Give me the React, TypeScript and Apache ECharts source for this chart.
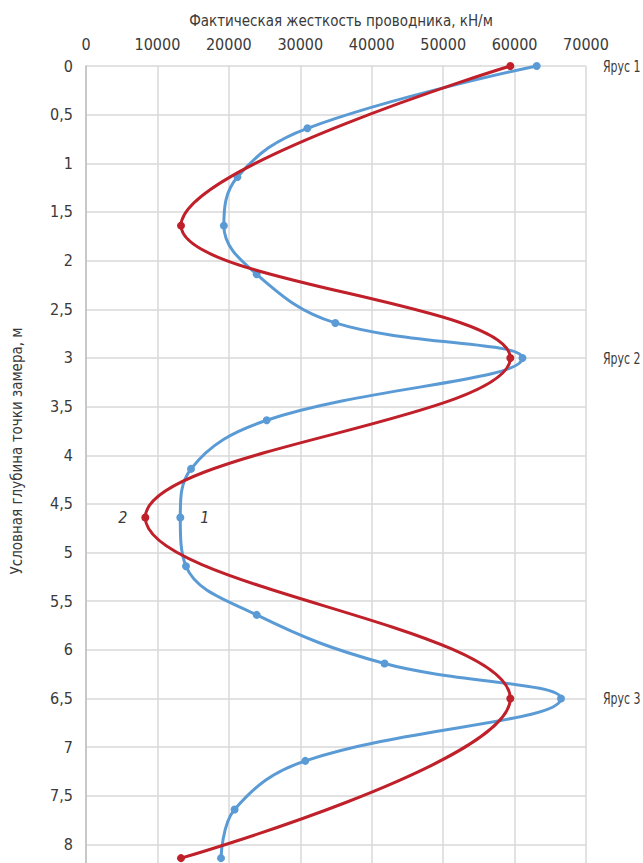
import React, { useEffect, useRef } from 'react';
import * as echarts from 'echarts';

// Series 1 (blue): depth (m) and stiffness (kN/m)
const depthsBlue = [0, 0.64, 1.14, 1.64, 2.14, 2.64, 3.0, 3.64, 4.14, 4.64, 5.14, 5.64, 6.14, 6.5, 7.14, 7.64, 8.14];
const stiffnessBlue = [63100, 31000, 21200, 19300, 23900, 34900, 61100, 25300, 14700, 13200, 14000, 23900, 41800, 66500, 30700, 20800, 18900];
// Series 2 (red)
const depthsRed = [0, 1.64, 3.0, 4.64, 6.5, 8.14];
const stiffnessRed = [59400, 13300, 59400, 8300, 59400, 13300];
// Tier labels on the right
const tierDepths = [0, 3, 6.5];
const tierNames = ['Ярус 1', 'Ярус 2', 'Ярус 3'];
// Curve labels
const blueCurveLabel = '1';
const redCurveLabel = '2';
const labelDepth = 4.64;

const FONT = '"Liberation Sans Narrow", "DejaVu Sans Condensed", "DejaVu Sans", sans-serif';
const TEXT = '#3a3a3a';
const X_MAX = 70000;

export default function App() {
  const ref = useRef<HTMLDivElement>(null);
  useEffect(() => {
    if (!ref.current) return;
    const chart = echarts.init(ref.current, undefined, { renderer: 'svg' });
    const blueData = depthsBlue.map((d, i) => {
      const item: any = { value: [stiffnessBlue[i], d] };
      if (d === labelDepth) {
        item.label = {
          show: true, position: 'right', distance: 16, formatter: blueCurveLabel,
          fontStyle: 'italic', fontSize: 16, color: TEXT, fontFamily: FONT,
        };
      }
      return item;
    });
    const redData = depthsRed.map((d, i) => {
      const item: any = { value: [stiffnessRed[i], d] };
      if (d === labelDepth) {
        item.label = {
          show: true, position: 'left', distance: 14, formatter: redCurveLabel,
          fontStyle: 'italic', fontSize: 16, color: TEXT, fontFamily: FONT,
        };
      }
      return item;
    });
    const yTitle = {
      type: 'text',
      x: 17,
      y: 451,
      rotation: Math.PI / 2,
      style: {
        text: 'Условная глубина точки замера, м',
        fontFamily: FONT,
        fontSize: 15,
        fill: TEXT,
        align: 'center',
        verticalAlign: 'middle',
      },
    };
    chart.setOption({
      animation: false,
      backgroundColor: '#ffffff',
      textStyle: { fontFamily: FONT },
      title: {
        text: 'Фактическая жесткость проводника, кН/м',
        left: 336,
        textAlign: 'center',
        top: 8,
        textStyle: { fontFamily: FONT, fontSize: 15, fontWeight: 'normal', color: TEXT },
      },
      graphic: [yTitle],
      grid: { left: 86, right: 57, top: 66, bottom: 8, containLabel: false, outerBoundsMode: 'none' },
      xAxis: {
        type: 'value',
        position: 'top',
        min: 0,
        max: X_MAX,
        interval: 10000,
        axisLine: { show: false },
        axisTick: { show: false },
        axisLabel: {
          fontSize: 16, color: TEXT, margin: 14, fontFamily: FONT,
          formatter: (v: number) => String(v),
        },
        splitLine: { show: true, lineStyle: { color: '#d9d9d9', width: 1.5 } },
      },
      yAxis: {
        type: 'value',
        inverse: true,
        min: 0,
        max: 8.2,
        interval: 0.5,
        axisLine: { show: true, lineStyle: { color: '#bfbfbf', width: 1.5 } },
        axisTick: { show: false },
        axisLabel: {
          fontSize: 16, color: TEXT, margin: 13, fontFamily: FONT,
          showMaxLabel: false,
          formatter: (v: number) => (Math.abs(v * 2 - Math.round(v * 2)) < 1e-6 ? String(v).replace('.', ',') : ''),
        },
        splitLine: { show: true, lineStyle: { color: '#d9d9d9', width: 1.5 } },
      },
      series: [
        {
          type: 'line',
          name: '1',
          data: blueData,
          smooth: 0.4,
          symbol: 'circle',
          symbolSize: 8,
          lineStyle: { color: '#5b9bd5', width: 3 },
          itemStyle: { color: '#5b9bd5' },
          z: 2,
        },
        {
          type: 'line',
          name: '2',
          data: redData,
          smooth: 0.4,
          symbol: 'circle',
          symbolSize: 8,
          lineStyle: { color: '#c0202a', width: 3 },
          itemStyle: { color: '#c0202a' },
          z: 3,
        },
      ],
    });
    const xRight = chart.convertToPixel({ xAxisIndex: 0 }, X_MAX) as number;
    const tierTexts = tierDepths.map((d, i) => ({
      type: 'text',
      x: xRight + 17,
      y: chart.convertToPixel({ yAxisIndex: 0 }, d) as number,
      scaleX: 0.76,
      style: {
        text: tierNames[i],
        fontFamily: FONT,
        fontSize: 16,
        fill: TEXT,
        align: 'left',
        verticalAlign: 'middle',
      },
    }));
    chart.setOption({ graphic: [yTitle, ...tierTexts] }, { replaceMerge: ['graphic'] });
    return () => chart.dispose();
  }, []);
  return (
    <div
      ref={ref}
      style={{ position: 'fixed', left: 0, top: 0, width: 643, height: 872 }}
    />
  );
}
